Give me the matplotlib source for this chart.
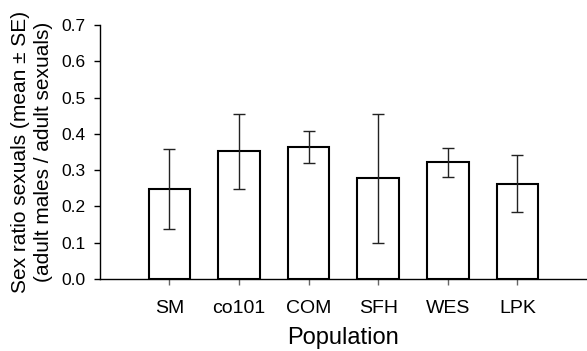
import numpy as np
import matplotlib
matplotlib.use("Agg")
import matplotlib.pyplot as plt

plt.rcParams['font.family'] = ['Liberation Sans', 'DejaVu Sans']

populations = ["SM", "co101", "COM", "SFH", "WES", "LPK"]
means = [0.248, 0.352, 0.365, 0.277, 0.322, 0.263]
se = [0.110, 0.104, 0.044, 0.177, 0.040, 0.079]

fig = plt.figure(figsize=(5.87, 3.51), dpi=100)
ax = fig.add_axes([0.170, 0.205, 0.830, 0.724])

x = np.arange(len(populations))
ax.bar(x, means, width=0.6, color='white', edgecolor='black', linewidth=1.5, zorder=2)
ax.errorbar(x, means, yerr=se, fmt='none', ecolor='#222222', elinewidth=1.0,
            capsize=4.5, capthick=1.0, zorder=3)

ax.set_xlim(-1, 6)
ax.set_ylim(0, 0.7)
ax.set_yticks(np.arange(0, 0.71, 0.1))
ax.set_yticklabels(["%.1f" % v for v in np.arange(0, 0.71, 0.1)])
ax.set_xticks(x)
ax.set_xticklabels(populations)

ax.spines['top'].set_visible(False)
ax.spines['right'].set_visible(False)
ax.spines['left'].set_linewidth(1.0)
ax.spines['bottom'].set_linewidth(1.0)

ax.tick_params(axis='y', direction='out', length=4, width=1, labelsize=12.5, pad=6)
ax.tick_params(axis='x', direction='out', length=4, width=1, labelsize=14, pad=11, color='#666666')

ax.set_xlabel("Population", fontsize=17, labelpad=7)
ax.set_ylabel("Sex ratio sexuals (mean \u00b1 SE)\n(adult males / adult sexuals)",
              fontsize=15, linespacing=1.3, labelpad=6)

fig.savefig("out.png", dpi=100)
